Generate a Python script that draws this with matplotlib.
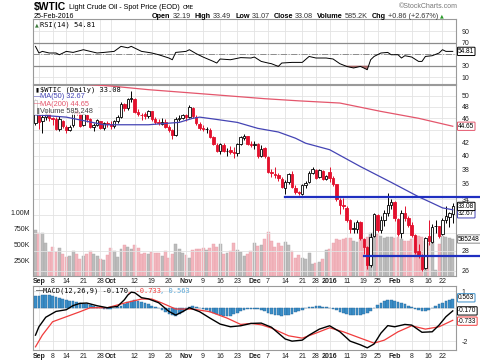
import numpy as np
import pandas as pd
import matplotlib
matplotlib.use('Agg')
import matplotlib.pyplot as plt
from matplotlib.ticker import NullLocator

W, H = 480, 363

# trading days shown (Aug 31 2015 .. Feb 25 2016)
holidays = ['2015-09-07', '2015-11-26', '2015-12-25', '2016-01-01', '2016-01-18', '2016-02-15']
days = pd.bdate_range('2015-08-31', '2016-02-25')
days = days[~days.isin(pd.to_datetime(holidays))]

open_ = [45.20,
         46.60, 45.60, 46.30, 46.70, 46.00, 45.80, 44.20, 45.60, 44.50, 44.00, 44.80, 47.20, 46.70, 44.90, 46.50, 45.90, 44.50, 44.90, 45.50, 44.40, 45.20,
         45.00, 44.70, 45.50, 46.20, 48.50, 47.80, 49.40, 49.50, 47.10, 46.60, 46.70, 46.40, 47.20, 45.90, 45.40, 45.10, 45.30, 44.50, 44.00, 43.20, 45.90, 46.00,
         46.50, 46.20, 47.80, 46.30, 45.10, 44.40, 44.20, 44.10, 42.90, 41.70, 40.70, 41.60, 40.70, 40.80, 40.50, 40.40, 41.80, 42.80, 43.00, 41.80,
         41.70, 41.80, 40.00, 41.10, 39.80, 37.60, 37.40, 37.20, 36.70, 35.50, 36.30, 37.30, 35.50, 34.90, 34.70, 35.80, 36.20, 37.50, 37.90, 36.90, 37.80, 36.60,
         37.60, 36.80, 36.00, 33.90, 33.30, 32.90, 31.40, 30.40, 30.40, 31.20, 29.30, 28.40, 26.60, 29.60, 32.00, 30.30, 31.40, 32.30, 33.30,
         33.60, 31.60, 29.90, 32.30, 31.70, 30.90, 29.70, 28.00, 27.40, 26.30, 29.60, 29.00, 30.70, 30.70, 29.80, 31.40, 31.80, 32.19]
high = [49.50,
        46.80, 46.70, 47.70, 46.90, 46.20, 46.30, 46.40, 45.70, 44.90, 44.80, 47.40, 47.70, 46.90, 46.90, 46.70, 46.00, 45.20, 45.90, 45.60, 45.40, 45.50,
        45.60, 45.70, 46.50, 48.80, 48.70, 49.60, 50.90, 49.60, 47.60, 47.00, 47.10, 47.40, 47.30, 46.20, 45.80, 46.00, 45.80, 44.80, 44.20, 46.30, 46.50, 46.80,
        46.80, 48.40, 48.00, 46.50, 45.40, 44.90, 44.60, 44.30, 43.10, 41.90, 42.00, 42.00, 41.10, 41.50, 41.30, 42.00, 43.00, 43.40, 43.10, 42.20,
        42.30, 41.90, 41.60, 41.30, 40.00, 38.00, 38.30, 37.50, 36.90, 36.50, 37.50, 37.70, 35.80, 35.10, 36.00, 36.40, 37.70, 38.30, 38.00, 38.10, 37.90, 37.20,
        38.40, 37.00, 36.00, 34.20, 34.20, 33.10, 31.60, 31.20, 31.40, 31.30, 29.40, 28.50, 30.00, 32.30, 32.10, 31.90, 32.60, 34.80, 34.00,
        33.80, 31.70, 32.70, 33.10, 31.90, 31.20, 29.80, 28.70, 27.70, 29.50, 31.50, 31.00, 31.40, 30.80, 31.70, 33.10, 32.40, 33.49]
low = [44.90,
       44.20, 43.60, 45.70, 45.60, 44.80, 44.00, 43.80, 44.30, 43.60, 43.80, 44.60, 46.50, 44.50, 44.70, 45.40, 44.30, 43.90, 44.70, 44.20, 44.00, 44.60,
       44.20, 44.40, 45.20, 46.00, 47.30, 47.40, 48.90, 47.00, 46.40, 45.70, 45.90, 46.10, 45.60, 45.00, 44.90, 44.90, 44.40, 43.70, 42.60, 43.10, 45.50, 45.80,
       45.50, 46.00, 46.10, 44.90, 44.10, 43.90, 43.50, 42.70, 41.60, 40.50, 40.30, 40.50, 39.90, 40.30, 39.70, 40.00, 41.60, 42.40, 41.60, 41.30,
       41.00, 39.70, 39.80, 39.60, 37.50, 36.90, 36.80, 36.40, 35.40, 34.60, 36.00, 35.40, 34.70, 34.50, 34.50, 35.50, 36.10, 37.30, 36.60, 36.80, 36.50, 36.50,
       36.30, 35.70, 33.80, 32.10, 32.80, 31.20, 29.90, 29.90, 29.90, 29.20, 27.70, 26.20, 26.40, 29.50, 30.10, 29.90, 30.80, 31.90, 32.80,
       31.30, 29.60, 29.40, 31.30, 30.60, 29.50, 27.70, 27.30, 26.00, 26.20, 28.60, 28.80, 30.00, 29.40, 29.70, 31.10, 30.60, 31.07]
close = [49.20,
         45.41, 46.25, 46.75, 46.05, 45.94, 44.15, 45.92, 44.63, 44.00, 44.59, 47.15, 46.90, 44.68, 46.68, 45.83, 44.48, 44.91, 45.70, 44.43, 45.23, 45.09,
         44.74, 45.54, 46.26, 48.53, 47.81, 49.43, 49.63, 47.10, 46.66, 46.64, 46.38, 47.26, 45.89, 45.29, 45.20, 45.38, 44.60, 43.98, 43.20, 45.94, 46.06, 46.59,
         46.14, 47.90, 46.32, 45.20, 44.29, 44.21, 44.21, 42.93, 41.75, 40.74, 41.74, 40.67, 40.75, 40.54, 40.39, 41.75, 42.87, 43.04, 41.71, 41.65,
         41.85, 39.94, 41.08, 39.97, 37.65, 37.51, 37.16, 36.76, 35.62, 36.31, 37.35, 35.52, 34.95, 34.73, 35.81, 36.14, 37.50, 38.10, 36.81, 37.87, 36.60, 37.04,
         36.76, 35.97, 33.97, 33.27, 33.16, 31.41, 30.44, 30.48, 31.20, 29.42, 28.46, 26.55, 29.53, 32.19, 30.34, 31.45, 32.30, 33.22, 33.62,
         31.62, 29.88, 32.28, 31.72, 30.89, 29.69, 27.94, 27.45, 26.21, 29.44, 29.04, 30.66, 30.77, 29.64, 31.48, 31.87, 32.22, 33.08]
prev_close = 45.22

# volume, thousands
vol_k = [723, 685, 685, 527, 380, 459, 385, 448, 353, 300,
         316, 395, 353, 264, 316, 343, 395, 353, 316, 264,
         248, 332, 448, 395, 300, 422, 490, 459, 432, 490,
         438, 343, 369, 353,
         380, 358, 369, 316, 395, 280, 343, 500, 432, 358,
         327, 280, 411, 432, 422, 437, 411, 448, 500, 464,
         500, 343, 369, 395, 516, 411, 380, 316, 343, 395,
         527, 474, 485, 580, 696, 553, 464, 527, 474, 537,
         485, 395, 280, 327, 290, 264, 358, 184, 200, 221,
         264, 411, 432, 527, 580, 569, 590, 606, 606,
         560, 540, 600, 580, 620, 680, 690, 660, 640, 600,
         620, 610, 600, 620, 580, 560, 550, 580, 610, 640,
         620, 560, 520, 560, 90, 500, 640, 620, 600, 585]

# moving averages (day index, value)
ma50_idx = [0, 9, 20, 33, 42, 46, 48, 53, 59, 65, 71, 76, 79, 86, 95, 104, 112, 116, 119, 122]
ma50_val = [46.6, 46.2, 44.9, 44.9, 45.3, 46.0, 46.2, 45.8, 45.3, 44.3, 43.7, 42.7, 41.9, 40.9, 38.4, 36.2, 34.3, 33.5, 32.9, 32.67]
ma200_idx = [0, 11, 22, 33, 45, 57, 67, 77, 89, 101, 112, 122]
ma200_val = [53.5, 52.4, 51.9, 51.2, 50.6, 50.0, 49.5, 49.1, 48.7, 47.2, 46.0, 44.65]

rsi_idx = [0, 1, 2, 4, 6, 7, 9, 11, 14, 16, 18, 20, 23, 25, 27, 28, 31, 33, 34, 36, 39, 40, 41, 44, 45, 47, 49,
           52, 53, 54, 57, 60, 63, 64, 66, 68, 69, 71, 72, 75, 78, 80, 82, 85, 87, 89, 91, 93, 95, 96, 97, 98,
           99, 101, 103, 104, 106, 107, 108, 110, 112, 113, 114, 116, 118, 119, 120, 121, 122]
rsi_val = [63.5, 52, 54.8, 52, 52, 49, 54.8, 53, 57.7, 54.8, 52, 53, 54.8, 63.5, 61, 63.5, 54.8, 53, 52, 49, 43.3, 40.3, 53, 54.8, 57.7, 50.8, 45,
           37.4, 34.6, 41.6, 40.3, 44, 43.3, 45, 37.4, 34.6, 33.4, 28.7, 34.6, 35.7, 35.7, 46, 43.3, 43.3, 41.6, 33.4, 28.7, 26, 28.7, 26, 23, 40.3,
           46, 52, 53, 49, 49, 43.3, 47.3, 45, 37.4, 37.4, 46, 47.3, 52, 57.7, 54.8, 54.8, 54.81]

macd_idx = [0, 1, 3, 6, 9, 11, 13, 15, 18, 21, 24, 26, 27, 28, 29, 31, 33, 36, 39, 41, 43, 45, 48, 51, 54, 57, 60, 63, 66,
            69, 71, 73, 75, 78, 80, 83, 86, 89, 92, 95, 97, 99, 101, 103, 105, 108, 110, 113, 116, 118, 120, 122]
macd_val = [-1.62, -1.12, -0.55, -0.2, -0.1, 0.15, 0.28, 0.3, 0.14, 0.02, 0.1, 0.5, 0.78, 0.95, 0.92, 0.62, 0.55, 0.32, -0.2, -0.42,
            -0.22, 0.02, -0.22, -0.6, -0.96, -1.12, -1.06, -0.92, -0.9, -1.15, -1.5, -1.85, -1.98, -1.92, -1.62, -1.26, -1.06, -1.42,
            -1.98, -2.2, -2.38, -2.15, -1.5, -1.05, -1.12, -0.98, -1.02, -1.45, -1.42, -1.02, -0.52, -0.17]
sig_idx = [0, 2, 5, 9, 13, 16, 21, 26, 31, 34, 37, 41, 46, 51, 56, 60, 63, 66, 69, 74, 78, 82, 86, 90, 95, 99, 102, 106,
           110, 114, 118, 122]
sig_val = [-2.32, -1.62, -0.82, -0.52, -0.22, 0.02, 0.02, 0.3, 0.54, 0.54, 0.3, -0.06, -0.06, -0.22, -0.6, -0.98, -0.92, -1.0,
           -1.2, -1.66, -1.8, -1.5, -1.18, -1.42, -1.8, -2.1, -1.92, -1.42, -1.06, -1.26, -1.12, -0.733]
hist = [0.70, 0.75, 0.78, 0.78, 0.76, 0.72, 0.66, 0.60, 0.54, 0.48,
        0.44, 0.42, 0.38, 0.32, 0.27, 0.22, 0.16, 0.11, 0.06, 0.01,
        -0.04, -0.07, -0.06, -0.01, 0.06, 0.15, 0.25, 0.35, 0.44, 0.46,
        0.42, 0.38, 0.32, 0.24, 0.15, 0.07, -0.02, -0.12, -0.24, -0.34,
        -0.42, -0.46, -0.38, -0.24, -0.10, 0.04, 0.10, 0.08, 0.02, -0.06,
        -0.14, -0.22, -0.30, -0.36, -0.42, -0.46, -0.48, -0.46, -0.38, -0.28,
        -0.18, -0.10, -0.06, -0.04, -0.04, -0.06, -0.12, -0.20, -0.28, -0.34,
        -0.40, -0.44, -0.46, -0.44, -0.40, -0.34, -0.26, -0.18, -0.10, -0.02,
        0.04, 0.08, 0.10, 0.10, 0.08, 0.05, 0.01, -0.06, -0.14, -0.22,
        -0.29, -0.35, -0.39, -0.42, -0.43, -0.42, -0.38, -0.30, -0.16, 0.00,
        0.16, 0.30, 0.42, 0.50, 0.48, 0.44, 0.38, 0.32, 0.24, 0.15,
        0.06, -0.04, -0.12, -0.17, -0.16, -0.10, 0.02, 0.14, 0.24, 0.33,
        0.41, 0.49, 0.563]

# trend lines drawn on the chart: (start date, price)
line_hi = ('2015-12-14', 34.25)
line_lo = ('2016-01-19', 27.5)

tick_dates = ['2015-09-01', '2015-09-08', '2015-09-14', '2015-09-21', '2015-09-28', '2015-10-01', '2015-10-12',
              '2015-10-19', '2015-10-26', '2015-11-02', '2015-11-09', '2015-11-16', '2015-11-23', '2015-12-01',
              '2015-12-07', '2015-12-14', '2015-12-21', '2015-12-28', '2016-01-04', '2016-01-11', '2016-01-19',
              '2016-01-25', '2016-02-01', '2016-02-08', '2016-02-16', '2016-02-22']
tick_labels = ['Sep', '8', '14', '21', '28', 'Oct', '12', '19', '26', 'Nov', '9', '16', '23', 'Dec',
               '7', '14', '21', '28', '2016', '11', '19', '25', 'Feb', '8', '16', '22']
bold_labels = {'Sep', 'Oct', 'Nov', 'Dec', '2016', 'Feb'}

price_ticks = [26, 28, 30, 32, 34, 36, 38, 40, 42, 44, 46, 48, 50]
price_tick_labels = ['26', '28', '', '', '34', '36', '38', '40', '42', '', '46', '48', '50']
rsi_ticks = [10, 30, 50, 70, 90]
rsi_tick_labels = ['10', '30', '', '70', '90']
macd_ticks = [-2, -1, 0, 1]
macd_tick_labels = ['-2', '', '', '1']

RED = '#e3102d'
GRID = '#e3e3e3'
SPINE = '#9a9a9a'
SANS = 'Liberation Sans'
MONO = 'DejaVu Sans Mono'

x = np.arange(len(days))
tick_pos = [days.get_loc(pd.Timestamp(d)) for d in tick_dates]
xlim = (-0.73, 122.95)

fig = plt.figure(figsize=(W / 100, H / 100), dpi=100)


def box(l, t, w, h):
    return [l / W, 1 - (t + h) / H, w / W, h / H]


ax_rsi = fig.add_axes(box(33, 19, 423, 65))
ax = fig.add_axes(box(33, 85, 423, 191))
ax_macd = fig.add_axes(box(33, 286, 423, 64))

# ---- price panel
ax_vol = ax.twinx()
c = np.array(close)
o = np.array(open_)
pc = np.concatenate([[prev_close], c[:-1]])
up = c >= pc
vol_col = np.where(up, '#bcbcbc', '#f2b6be')
ax_vol.bar(x, vol_k, width=0.86, color=vol_col, edgecolor=np.where(up, '#a8a8a8', '#e9a0aa'), lw=0.3)
ax_vol.set_ylim(0, 3020)
ax_vol.yaxis.tick_left()
ax_vol.set_yticks([250, 500, 750, 1000])
ax_vol.set_yticklabels(['250K', '500K', '750K', '1.00M'])
ax_vol.tick_params(axis='y', length=0, labelsize=5, colors='#222222', pad=2)
ax_vol.tick_params(axis='x', bottom=False, top=False, labelbottom=False, labeltop=False)
for s in ax_vol.spines.values():
    s.set_visible(False)
ax.set_zorder(ax_vol.get_zorder() + 1)
ax.patch.set_visible(False)

for a in (ax_rsi, ax, ax_macd):
    a.set_xlim(*xlim)
    a.set_xticks(tick_pos)
    a.grid(True, color=GRID, lw=0.6)
    a.set_axisbelow(True)
    a.yaxis.tick_right()
    a.tick_params(length=0, labelsize=5, colors='#222222', pad=4)
    for s in a.spines.values():
        s.set_color(SPINE)
        s.set_linewidth(0.8)
ax_rsi.set_xticklabels([])

ccol = np.where(up, 'black', RED)
ax.vlines(x, low, high, colors=ccol, lw=0.7, zorder=3)
body_lo = np.minimum(o, c)
body_h = np.maximum(np.abs(c - o), 0.04)
face = np.where(c > o, 'white', ccol)
ax.bar(x, body_h, bottom=body_lo, width=0.72, color=face, edgecolor=ccol, lw=0.6, zorder=4)

ax.plot(ma50_idx, ma50_val, color='#4444b4', lw=0.9, zorder=5)
ax.plot(ma200_idx, ma200_val, color='#e4566c', lw=0.9, zorder=5)

for d, p in (line_hi, line_lo):
    i0 = days.get_loc(pd.Timestamp(d))
    ax.plot([i0, 130], [p, p], color='#1f2fc0', lw=1.6, zorder=6, clip_on=False)

ax.set_yscale('log')
ax.set_ylim(25.5, 52.1)
ax.set_yticks(price_ticks)
ax.set_yticklabels(price_tick_labels)
ax.yaxis.set_minor_locator(NullLocator())
ax.set_xticklabels(tick_labels)
ax.tick_params(axis='x', pad=1.5)
ax.set_xlim(*xlim)

# ---- rsi panel
ax_rsi.set_ylim(-1.8, 111)
ax_rsi.set_yticks(rsi_ticks)
ax_rsi.set_yticklabels(rsi_tick_labels)
ax_rsi.axhline(70, color='#8c8c8c', lw=0.9)
ax_rsi.axhline(30, color='#8c8c8c', lw=0.9)
ax_rsi.axhline(50, color='#8c8c8c', lw=0.7, ls='-.')
ax_rsi.plot(rsi_idx, rsi_val, color='black', lw=0.7, zorder=4)
ax_rsi.fill_between(rsi_idx, rsi_val, 30, where=np.array(rsi_val) < 30, interpolate=True,
                    color='#a04848', alpha=0.7, lw=0, zorder=3)

# ---- macd panel
ax_macd.set_ylim(-2.51, 1.32)
ax_macd.set_yticks(macd_ticks)
ax_macd.set_yticklabels(macd_tick_labels)
ax_macd.bar(x, hist, width=0.8, color='#3a8ec8', edgecolor='#28689a', lw=0.3, zorder=3)
ax_macd.plot(sig_idx, sig_val, color='#f03c3c', lw=0.9, zorder=4)
ax_macd.plot(macd_idx, macd_val, color='black', lw=1.0, zorder=5)
ax_macd.set_xticklabels(tick_labels)
ax_macd.tick_params(axis='x', pad=2)

for a in (ax, ax_macd):
    for lbl in a.get_xticklabels():
        if lbl.get_text() in bold_labels:
            lbl.set_fontweight('bold')
for a in (ax, ax_vol, ax_rsi, ax_macd):
    for lbl in a.get_xticklabels() + a.get_yticklabels():
        lbl.set_family(SANS)


def tag(a, y, s, ec):
    a.text(1.005, y, s, transform=a.get_yaxis_transform(), ha='left', va='center', fontsize=4.7,
           family=SANS, color='black', zorder=20, clip_on=False,
           bbox=dict(boxstyle='round,pad=0.1', fc='white', ec=ec, lw=0.7))


tag(ax, ma200_val[-1], f'{ma200_val[-1]:.2f}', '#e4566c')
tag(ax, ma50_val[-1] * 0.985, f'{ma50_val[-1]:.2f}', '#4444b4')
tag(ax, close[-1], f'{close[-1]:.2f}', 'black')
tag(ax_vol, vol_k[-1], '585248', '#888888')
tag(ax_rsi, rsi_val[-1], f'{rsi_val[-1]:.2f}', 'black')
tag(ax_macd, hist[-1] + 0.05, f'{hist[-1]:.3f}', '#3a8ec8')
tag(ax_macd, macd_val[-1], f'{macd_val[-1]:.3f}', 'black')
tag(ax_macd, sig_val[-1] - 0.05, f'{sig_val[-1]:.3f}', '#f03c3c')

# ---- legends / header text
r = fig.canvas.get_renderer()


def ft(px, py, s, **kw):
    kw.setdefault('va', 'center')
    return fig.text(px / W, 1 - py / H, s, **kw)


def seq(px, py, pieces, size, family):
    xx = px
    for s, col, wt, gap in pieces:
        t = ft(xx, py, s, fontsize=size, color=col, fontweight=wt, family=family)
        xx += t.get_window_extent(r).width + gap
    return xx


fig.patches.append(plt.Rectangle((34 / W, 1 - 115 / H), 64 / W, 29 / H, transform=fig.transFigure,
                                 fc='white', ec='none', alpha=0.8, zorder=10))
mono_w = 0.602 * 5 * 100 / 72
ft(35, 90, '\u25ae', fontsize=4, color='black', zorder=11)
ft(40, 90, f'$WTIC (Daily) {close[-1]:.2f}', fontsize=5, family=MONO, zorder=11)
ft(34, 97, '\u2014', fontsize=5, color='#4444b4', family=SANS, zorder=11)
ft(40, 97, f'MA(50) {ma50_val[-1]:.2f}', fontsize=5.3, color='#4444b4', family=SANS, zorder=11)
ft(34, 104, '\u2014', fontsize=5, color='#e4566c', family=SANS, zorder=11)
ft(40, 104, f'MA(200) {ma200_val[-1]:.2f}', fontsize=5.3, color='#e4566c', family=SANS, zorder=11)
ft(35, 111, '\u2590', fontsize=4, color='#777777', zorder=11)
ft(40, 111, 'Volume 585,248', fontsize=5.3, color='#444444', family=SANS, zorder=11)

ft(35, 25, '\u25b2', fontsize=3.5, color='#3a7a3a')
ft(40, 25, f'RSI(14) {rsi_val[-1]:.2f}', fontsize=5, family=MONO)

mx = 36
ft(mx, 291, '\u2014', fontsize=5, family=SANS)
s1 = f'MACD(12,26,9) {macd_val[-1]:.3f}'
ft(mx + 7, 291, s1, fontsize=5, family=MONO)
s2 = f', {sig_val[-1]:.3f}'
ft(mx + 7 + len(s1) * mono_w, 291, s2, fontsize=5, family=MONO, color='#f03c3c')
s3 = f', {hist[-1]:.3f}'
ft(mx + 7 + (len(s1) + len(s2)) * mono_w, 291, s3, fontsize=5, family=MONO, color='#5aa8d8')

t_sym = ft(34, 7, '$WTIC', fontsize=7.5, fontweight='bold', family=SANS)
nx = 34 + t_sym.get_window_extent(r).width + 3
t_name = ft(nx, 7.5, 'Light Crude Oil - Spot Price (EOD)', fontsize=5.2, family=SANS)
ft(nx + t_name.get_window_extent(r).width + 3, 7.5, 'CME', fontsize=4.5, family=MONO)
ft(34, 16, '25-Feb-2016', fontsize=5, family=SANS)
ft(458, 6, '\u00a9StockCharts.com', fontsize=5, color='#777777', family=SANS, ha='right')

pieces = [('Open', 'black', 'bold', 2), ('32.19', '#333333', 'normal', 4),
          ('High', 'black', 'bold', 2), ('33.49', '#333333', 'normal', 4),
          ('Low', 'black', 'bold', 2), ('31.07', '#333333', 'normal', 4),
          ('Close', 'black', 'bold', 2), ('33.08', '#333333', 'normal', 4),
          ('Volume', 'black', 'bold', 2), ('585.2K', '#333333', 'normal', 4),
          ('Chg', 'black', 'bold', 2), ('+0.86 (+2.67%)', '#333333', 'normal', 2)]
end = seq(152, 16, pieces, 5.2, SANS)
ft(end, 16, '\u25b2', fontsize=3.5, color='#2a9a2a')

fig.savefig('out.png', dpi=100)
